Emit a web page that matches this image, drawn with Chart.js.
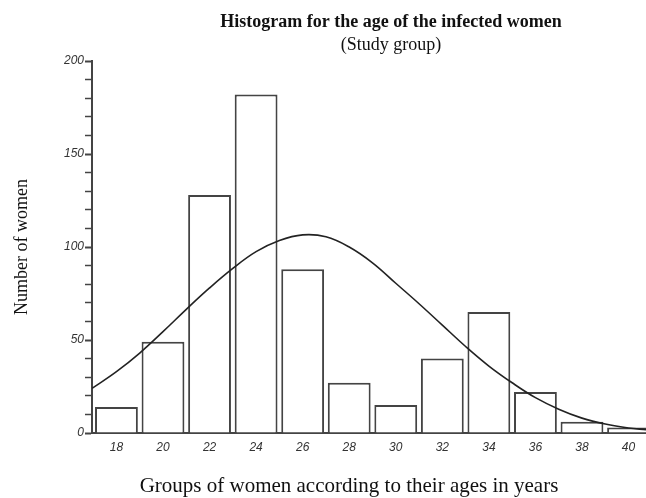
<!DOCTYPE html>
<html>
<head>
<meta charset="utf-8">
<script src="https://cdn.jsdelivr.net/npm/chart.js@4.4.1/dist/chart.umd.min.js"></script>
<style>
  html, body { margin: 0; padding: 0; background: #fff; }
  #wrap { width: 646px; height: 498px; position: relative; }
</style>
</head>
<body>
<div id="wrap"><canvas id="c"></canvas></div>
<script>
// ---- data ----
const chartTitle = 'Histogram for the age of the infected women';
const chartSubtitle = '(Study group)';
const xAxisTitle = 'Groups of women according to their ages in years';
const yAxisTitle = 'Number of women';

const ageGroups   = [18, 20, 22, 24, 26, 28, 30, 32, 34, 36, 38, 40];
const womenCounts = [14, 49, 128, 182, 88, 27, 15, 40, 65, 22, 6, 3];

// fitted normal curve, heights at each age
const curveAges   = [16.95, 18, 19, 20, 21, 22, 23, 24, 25, 26, 27, 28, 29, 30, 31, 32, 33, 34, 35, 36, 37, 38, 39, 40, 40.75];
const curveValues = [24, 33, 43, 54.5, 66.5, 78, 88.5, 97.5, 103.5, 106.5, 105.5, 100, 91.5, 80.5, 69.5, 58, 46.5, 36, 27, 19, 12.8, 8, 4.8, 2.7, 1.8];

const xTickLabels = [18, 20, 22, 24, 26, 28, 30, 32, 34, 36, 38, 40];
const yTickLabels = [0, 50, 100, 150, 200];

const xMin = 16.95, xMax = 40.75, yMin = 0, yMax = 200;

const barData = ageGroups.map((a, i) => ({ x: a, y: womenCounts[i] }));
const curveData = curveAges.map((a, i) => ({ x: a, y: curveValues[i] }));

const titlesPlugin = {
  id: 'titles',
  afterDraw(chart) {
    const { ctx, chartArea } = chart;
    ctx.save();
    ctx.fillStyle = '#111';
    ctx.textAlign = 'center';
    ctx.textBaseline = 'alphabetic';
    ctx.font = 'bold 18px "Liberation Serif"';
    ctx.fillText(chartTitle, chartArea.left + 299, 27);
    ctx.font = '18px "Liberation Serif"';
    ctx.fillText(chartSubtitle, chartArea.left + 299, 50);
    ctx.font = '21px "Liberation Serif"';
    ctx.fillText(xAxisTitle, chartArea.left + 257, 492);
    ctx.restore();
  }
};

new Chart(document.getElementById('c'), {
  type: 'bar',
  data: {
    datasets: [
      {
        type: 'line',
        data: curveData,
        borderColor: '#222',
        borderWidth: 1.6,
        pointRadius: 0,
        fill: false,
        tension: 0.4,
        order: 0
      },
      {
        type: 'bar',
        data: barData,
        backgroundColor: '#ffffff',
        borderColor: '#444',
        borderWidth: 2,
        borderSkipped: 'start',
        barPercentage: 0.92,
        categoryPercentage: 1.0,
        order: 1
      }
    ]
  },
  options: {
    responsive: true,
    maintainAspectRatio: false,
    animation: false,
    layout: { padding: { top: 61, left: 0, right: 0, bottom: 0 } },
    plugins: {
      legend: { display: false },
      tooltip: { enabled: false },
      title: { display: false }
    },
    scales: {
      x: {
        type: 'linear',
        min: xMin,
        max: xMax,
        offset: false,
        afterBuildTicks(scale) {
          scale.ticks = xTickLabels.map(v => ({ value: v }));
        },
        afterFit(scale) { scale.height = 65; },
        grid: { display: false, drawTicks: false },
        border: { display: true, color: '#444', width: 2 },
        ticks: {
          autoSkip: false,
          maxRotation: 0,
          padding: 7,
          color: '#333',
          font: { family: '"Liberation Sans", Arial, sans-serif', size: 12, style: 'italic' },
          callback: (v) => xTickLabels.includes(v) ? String(v) : ''
        }
      },
      y: {
        type: 'linear',
        min: yMin,
        max: yMax,
        afterFit(scale) { scale.width = 92; },
        grid: {
          drawOnChartArea: false,
          drawTicks: true,
          tickLength: 7,
          tickColor: '#444',
          tickWidth: (ctx) => (ctx.tick && yTickLabels.includes(ctx.tick.value)) ? 2 : 1.5
        },
        border: { display: true, color: '#444', width: 2 },
        ticks: {
          stepSize: 10,
          autoSkip: false,
          padding: 1,
          color: '#333',
          font: { family: '"Liberation Sans", Arial, sans-serif', size: 12, style: 'italic' },
          callback: (v) => yTickLabels.includes(v) ? String(v) : ''
        },
        title: {
          display: true,
          text: yAxisTitle,
          color: '#111',
          font: { family: '"Liberation Serif"', size: 18 },
          padding: { top: 11, bottom: 0 }
        }
      }
    }
  },
  plugins: [titlesPlugin]
});
</script>
</body>
</html>
